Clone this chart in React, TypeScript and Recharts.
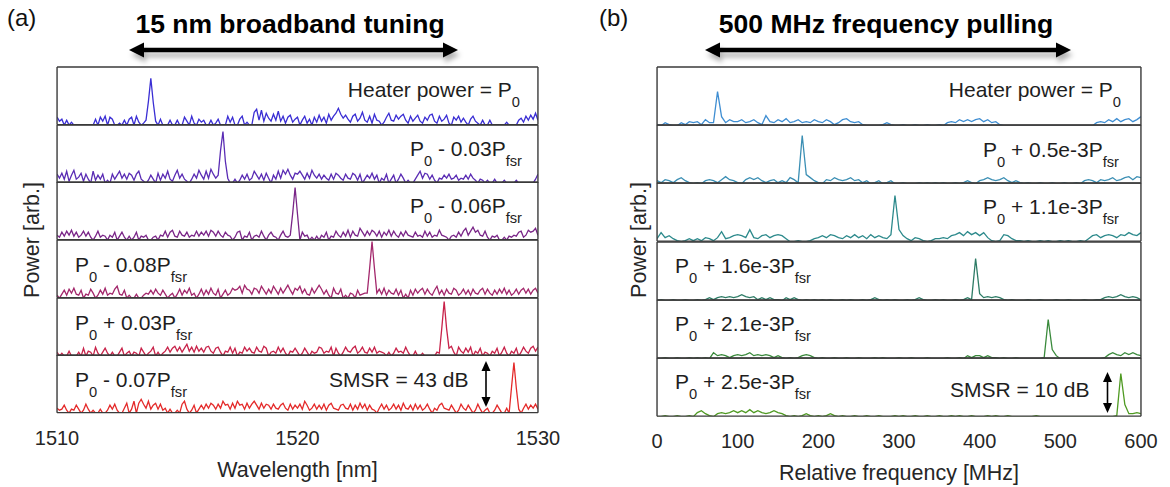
import React from 'react';
import { LineChart, Line, XAxis, YAxis } from 'recharts';

// ---------- sampling grids ----------
const WL_START = 1510;
const WL_STEP = 0.1;
const WL_COUNT = 201;
const FREQ_START = 0;
const FREQ_STEP = 5;
const FREQ_COUNT = 121;
const wavelengths = Array.from({ length: WL_COUNT }, (_, i) => +(WL_START + i * WL_STEP).toFixed(1));
const frequencies = Array.from({ length: FREQ_COUNT }, (_, i) => FREQ_START + i * FREQ_STEP);

// ---------- tick labels ----------
const WL_DOMAIN = [1510, 1530];
const WL_TICKS = [1510, 1520, 1530];
const WL_INNER_TICKS = [1520];
const FREQ_DOMAIN = [0, 600];
const FREQ_TICKS = [0, 100, 200, 300, 400, 500, 600];
const FREQ_INNER_TICKS = [100, 200, 300, 400, 500];
const LEFT_Y_TICKS = [12.5, 34.5];
const RIGHT_Y_TICKS = [8, 47.5];

// ---------- panel (a): spectra vs wavelength (arb. units) ----------
const LEFT_S1 = [
  8,4,6,0,5,0,3,0,0,0, 0,0,0,0,0,0,6,0,8,4, 9,0,8,6,0,0,2,0,5,0, 6,8,0,9,3,0,2,5,24,47,
  23,4,0,6,0,0,0,5,0,0, 5,0,0,8,4,0,9,2,0,6, 3,5,0,0,5,0,2,6,0,0, 0,9,3,8,0,0,6,9,0,3,
  0,0,13,16,5,15,4,12,7,4, 11,5,14,4,9,2,8,10,3,6, 8,0,5,9,2,6,0,8,3,10, 4,8,2,11,5,9,12,17,11,7,
  10,6,3,9,11,4,7,13,5,3, 9,2,11,5,4,0,3,8,12,5, 4,10,6,9,11,5,2,9,4,7, 10,4,2,8,5,10,11,4,2,9,
  4,6,10,2,0,8,5,9,3,7, 3,0,6,9,4,2,0,5,0,0, 5,0,0,0,0,0,0,3,0,0, 0,0,5,7,3,9,5,10,6,12,5,
];
const LEFT_S2 = [
  9,5,10,4,12,2,8,13,4,6, 10,2,9,4,0,12,3,8,4,9, 0,3,0,9,4,8,12,5,9,4, 10,8,3,9,12,4,2,0,3,8,
  4,0,10,3,9,5,12,4,2,8, 13,5,9,4,2,0,4,9,5,13, 8,4,12,5,14,9,5,8,33,52, 22,5,0,0,4,0,3,8,4,9,
  3,5,12,8,4,9,3,10,5,0, 8,4,12,5,13,9,14,8,4,10, 9,12,8,4,10,5,13,8,5,9, 4,8,5,3,9,4,10,8,5,3,
  9,5,4,10,8,3,9,0,4,8, 5,10,4,8,0,5,3,9,0,4, 8,0,4,9,5,0,3,0,0,4, 8,12,5,10,9,4,8,3,0,5,
  4,8,5,9,4,5,8,3,5,4, 8,4,9,5,3,0,4,3,0,3, 0,0,4,0,0,0,3,0,0,0, 0,3,0,0,0,0,0,0,0,4,9,
];
const LEFT_S3 = [
  5,3,8,4,9,5,10,4,8,3, 5,9,4,8,3,0,4,9,3,5, 4,0,5,3,8,0,4,8,3,0, 4,0,3,8,0,4,3,5,0,0,
  3,4,0,5,4,9,3,8,10,4, 3,9,5,4,8,3,5,4,9,4, 8,5,9,4,10,8,4,9,5,3, 8,5,4,0,3,8,9,0,4,3,
  8,0,4,5,3,9,4,0,5,8, 4,3,0,5,9,4,3,5,27,53, 26,0,8,4,5,0,3,0,4,0, 5,3,8,0,4,3,9,5,3,8,
  4,10,3,9,5,4,12,8,4,9, 5,10,8,4,9,3,8,5,10,4, 9,5,3,8,4,9,5,4,3,8, 4,5,3,9,4,8,3,5,4,10,
  5,4,3,0,4,5,3,8,4,9, 12,5,9,13,8,10,5,4,9,3, 0,4,3,5,0,0,3,0,4,3, 5,4,8,9,3,5,10,8,9,12,5,
];
const LEFT_S4 = [
  3,0,4,8,3,9,5,10,4,3, 8,0,4,3,9,5,0,3,8,4, 10,3,5,4,9,12,4,3,8,0, 3,0,0,4,0,0,3,5,4,8,
  4,9,5,3,8,4,0,3,5,0, 4,9,3,8,5,10,3,5,0,4, 9,3,8,4,10,5,3,9,0,4, 8,3,5,10,8,9,12,5,13,9,
  8,4,10,9,5,12,8,4,9,5, 12,8,4,10,5,9,13,8,4,10, 8,12,5,9,4,3,10,5,9,13, 9,4,8,3,0,10,5,4,9,0,
  3,0,5,4,0,8,3,4,5,5, 30,57,30,5,9,4,10,3,8,5, 4,9,3,8,0,4,0,8,3,9, 5,8,10,4,9,5,3,8,12,4,
  8,3,9,5,4,10,8,3,5,9, 4,8,3,9,5,4,8,10,4,9, 5,3,8,4,9,5,10,4,8,3, 5,9,4,8,10,5,9,4,8,10,5,
];
const LEFT_S5 = [
  4,0,3,0,0,5,0,0,0,4, 0,8,0,5,4,0,9,3,0,4, 8,3,0,4,0,0,4,8,0,3, 5,0,4,3,0,8,4,0,3,5,
  9,0,4,0,3,5,9,4,8,10, 5,9,4,8,12,5,9,4,10,5, 8,4,9,10,5,3,8,9,4,0, 5,4,9,3,8,0,4,3,9,5,
  8,4,3,9,5,4,10,8,0,4, 5,3,9,4,8,3,0,5,4,8, 4,0,3,8,4,0,5,3,4,9, 8,3,5,4,9,0,8,3,0,4,
  9,5,4,8,10,3,5,9,4,3, 8,4,9,3,5,4,3,0,4,0, 3,8,4,5,3,9,4,0,0,5, 0,0,3,0,0,0,0,0,4,3,
  28,55,28,8,10,4,0,9,5,3, 8,4,9,0,5,3,8,0,4,3, 0,5,3,8,0,4,9,3,0,5, 3,8,0,4,9,5,3,8,10,5,9,
];
const LEFT_S6 = [
  5,3,4,8,3,0,4,3,8,4, 0,3,9,4,0,3,0,0,4,0, 0,3,8,4,9,3,0,0,5,10, 0,4,12,0,10,14,9,5,12,4,
  8,10,4,9,3,5,0,4,0,0, 3,0,9,12,4,0,3,8,0,4, 8,4,9,5,10,8,4,9,5,12, 8,9,4,10,5,12,8,9,4,10,
  5,9,12,8,4,10,5,9,8,4, 9,5,4,8,10,5,3,9,4,8, 5,9,4,12,8,3,5,9,4,8, 4,9,3,8,10,5,4,3,8,9,
  5,4,9,3,8,4,10,5,9,3, 8,4,3,0,5,9,4,8,3,5, 9,4,8,3,10,5,4,8,3,9, 4,8,3,5,9,4,0,5,3,8,
  10,5,4,3,8,4,0,3,9,5, 3,8,4,0,3,9,4,0,3,5, 0,0,3,8,4,0,0,5,0,26, 51,25,4,0,5,9,4,8,5,9,4,
];

// ---------- panel (b): spectra vs relative frequency (arb. units) ----------
const RIGHT_S1 = [
  1,0,3,1,0,0,3,1,4,3, 4,1,6,3,3,34,9,3,6,4, 4,6,3,4,6,3,1,10,4,3, 6,4,7,3,4,6,3,4,3,6,
  4,3,6,4,1,3,6,7,4,3, 4,1,0,0,0,0,1,3,1,0, 0,1,0,0,1,0,0,1,0,0, 1,0,3,4,3,6,4,6,4,6,
  7,4,6,3,4,1,0,0,0,0, 0,0,0,0,0,0,0,0,0,0, 0,0,0,0,0,0,0,0,0,3, 4,3,6,4,7,4,6,7,4,6,9,
];
const RIGHT_S2 = [
  3,1,4,3,1,4,6,3,1,0, 1,0,3,4,3,1,4,7,4,3, 1,0,4,6,4,6,3,1,3,4, 1,3,1,6,4,1,48,9,6,3,
  1,0,4,3,6,4,3,4,6,3, 4,1,3,0,1,3,0,1,3,0, 0,1,0,0,0,1,0,1,0,1, 0,1,0,0,1,0,1,3,1,0,
  3,4,6,4,3,4,6,3,1,3, 1,0,1,0,0,1,0,0,1,0, 0,1,0,0,1,0,3,4,3,1, 4,3,4,6,3,4,6,7,4,7,6,
];
const RIGHT_S3 = [
  3,9,4,6,3,1,0,1,3,1, 3,1,4,3,1,4,10,3,4,6, 7,6,4,12,4,3,6,7,4,6, 7,6,3,0,0,1,0,0,1,3,
  4,6,4,7,6,4,3,6,4,7, 4,6,3,7,4,6,4,3,7,46, 12,6,3,1,4,3,1,0,1,3, 3,4,3,6,7,9,6,10,7,9,
  6,9,4,1,0,1,7,6,3,1, 1,0,1,0,0,1,0,1,0,0, 1,0,1,0,0,1,0,3,6,7, 4,6,7,6,4,7,6,9,7,6,9,
];
const RIGHT_S4 = [
  0,1,0,0,1,0,0,1,0,0, 1,0,1,3,1,3,4,3,4,3, 4,6,4,3,4,1,3,1,3,1, 1,0,3,1,3,1,0,1,0,1,
  0,1,0,1,0,0,1,0,1,0, 0,1,0,1,3,1,0,1,0,1, 0,0,1,0,1,3,1,0,0,1, 0,1,0,0,1,0,1,3,1,42,
  7,3,4,3,4,3,1,0,1,0, 0,0,1,0,0,1,0,0,0,1, 0,0,1,0,0,0,1,0,0,1, 1,3,4,3,4,6,4,3,4,3,1,
];
const RIGHT_S5 = [
  0,0,1,0,0,1,0,0,1,0, 1,0,1,0,6,3,4,3,1,3, 4,3,4,6,3,4,3,4,3,1, 3,1,0,1,0,1,3,4,3,1,
  0,1,0,0,1,0,0,1,0,0, 1,0,0,0,1,0,1,0,0,0, 1,0,0,1,0,0,0,1,0,0, 0,0,1,0,0,1,0,3,1,3,
  3,1,3,1,1,0,1,0,0,1, 0,0,0,0,0,0,1,39,9,3, 0,0,0,0,0,0,0,0,0,0, 0,1,4,6,4,3,6,4,6,4,3,
];
const RIGHT_S6 = [
  0,0,1,0,0,1,0,0,1,0, 4,6,3,1,0,3,4,3,4,6, 4,6,4,7,4,6,4,3,4,6, 4,3,1,0,1,0,1,3,1,0,
  1,0,1,3,1,0,1,0,0,1, 0,0,1,0,0,1,0,0,0,1, 0,1,0,0,1,0,0,1,0,0, 1,0,0,1,0,1,0,0,1,0,
  0,0,1,0,1,0,0,1,0,0, 0,0,0,0,1,0,0,0,0,0, 0,0,0,0,0,0,0,0,0,0, 0,0,0,0,1,43,12,3,3,4,3,
];

const LEFT_SERIES = [LEFT_S1, LEFT_S2, LEFT_S3, LEFT_S4, LEFT_S5, LEFT_S6];
const RIGHT_SERIES = [RIGHT_S1, RIGHT_S2, RIGHT_S3, RIGHT_S4, RIGHT_S5, RIGHT_S6];
const LEFT_COLORS = ['#3a2ed4', '#5a2cb4', '#7a2688', '#a3286c', '#c8234a', '#e42a2a'];
const RIGHT_COLORS = ['#3f8ed2', '#3b8fb4', '#2d8a8c', '#2e7c66', '#3a8a3c', '#4f9a22'];

type Part = [string, boolean];
const LEFT_LABELS: Part[][] = [
  [['Heater power = P', false], ['0', true]],
  [['P', false], ['0', true], [' - 0.03P', false], ['fsr', true]],
  [['P', false], ['0', true], [' - 0.06P', false], ['fsr', true]],
  [['P', false], ['0', true], [' - 0.08P', false], ['fsr', true]],
  [['P', false], ['0', true], [' + 0.03P', false], ['fsr', true]],
  [['P', false], ['0', true], [' - 0.07P', false], ['fsr', true]],
];
const RIGHT_LABELS: Part[][] = [
  [['Heater power = P', false], ['0', true]],
  [['P', false], ['0', true], [' + 0.5e-3P', false], ['fsr', true]],
  [['P', false], ['0', true], [' + 1.1e-3P', false], ['fsr', true]],
  [['P', false], ['0', true], [' + 1.6e-3P', false], ['fsr', true]],
  [['P', false], ['0', true], [' + 2.1e-3P', false], ['fsr', true]],
  [['P', false], ['0', true], [' + 2.5e-3P', false], ['fsr', true]],
];

const FONT = '"Liberation Sans", Arial, Helvetica, sans-serif';
const AXIS = '#3a3a3a';
const Y_DOMAIN = [0.5, 58.5];

type SubProps = {
  left: number; top: number; w: number; h: number;
  xs: number[]; ys: number[]; color: string; sw: number;
  domain: number[]; innerTicks: number[]; yTicks: number[];
  bottom?: boolean; labelTicks?: number[]; xLabel?: string;
};

function Subplot(p: SubProps) {
  const data = p.xs.map((x, i) => ({ x, v: p.ys[i] }));
  const extra = p.bottom ? 72 : 0;
  const side = p.bottom ? 40 : 1;
  const axisLine = { stroke: AXIS, strokeWidth: 1.4 };
  const tickLine = { stroke: AXIS, strokeWidth: 1.2 };
  return (
    <div style={{ position: 'absolute', left: p.left - side, top: p.top - 1 }}>
      <LineChart width={p.w + 2 * side} height={p.h + 2 + extra} data={data}
        margin={{ top: 1, right: side, bottom: 1, left: side }}>
        <Line xAxisId="b" yAxisId="l" dataKey="v" type="linear" stroke={p.color}
          strokeWidth={p.sw} dot={false} isAnimationActive={false} />
        <XAxis xAxisId="b" dataKey="x" type="number" domain={p.domain} allowDataOverflow
          ticks={p.innerTicks} mirror height={1} tick={false} tickSize={5}
          axisLine={axisLine} tickLine={tickLine} />
        <XAxis xAxisId="t" dataKey="x" type="number" domain={p.domain} allowDataOverflow
          orientation="top" ticks={p.innerTicks} mirror height={1} tick={false} tickSize={5}
          axisLine={axisLine} tickLine={tickLine} />
        {p.bottom && (
          <XAxis xAxisId="lbl" dataKey="x" type="number" domain={p.domain} allowDataOverflow
            ticks={p.labelTicks} height={72} axisLine={false} tickLine={false} tickSize={0}
            tickMargin={18} interval={0}
            tick={{ fontSize: 20, fill: '#262626', fontFamily: FONT }}
            label={{ value: p.xLabel, position: 'insideBottom', offset: 8, fontSize: 21.5, fill: '#262626', fontFamily: FONT }} />
        )}
        <YAxis yAxisId="l" type="number" domain={Y_DOMAIN} allowDataOverflow ticks={p.yTicks}
          mirror width={1} tick={false} tickSize={5} axisLine={axisLine} tickLine={tickLine} />
        <YAxis yAxisId="r" orientation="right" type="number" domain={Y_DOMAIN} allowDataOverflow
          ticks={p.yTicks} mirror width={1} tick={false} tickSize={5} axisLine={axisLine} tickLine={tickLine} />
      </LineChart>
    </div>
  );
}

function Rich({ x, y, anchor, parts, size }: { x: number; y: number; anchor: string; parts: Part[]; size: number }) {
  let cur = false;
  return (
    <text x={x} y={y} textAnchor={anchor as any} fontSize={size} fontFamily={FONT} fill="#1e1e1e">
      {parts.map(([t, s], i) => {
        const dy = s === cur ? 0 : s ? 10 : -10;
        cur = s;
        return <tspan key={i} dy={dy} fontSize={s ? size * 0.7 : size}>{t}</tspan>;
      })}
    </text>
  );
}

function BigArrow({ x1, x2, y }: { x1: number; x2: number; y: number }) {
  const L = 15, Hh = 7.5;
  return (
    <g filter="url(#sh)">
      <line x1={x1 + L - 1} y1={y} x2={x2 - L + 1} y2={y} stroke="#000" strokeWidth={4.5} />
      <polygon points={`${x1},${y} ${x1 + L},${y - Hh} ${x1 + L},${y + Hh}`} fill="#000" />
      <polygon points={`${x2},${y} ${x2 - L},${y - Hh} ${x2 - L},${y + Hh}`} fill="#000" />
    </g>
  );
}

function SmallArrow({ x, y1, y2 }: { x: number; y1: number; y2: number }) {
  const L = 10, Hw = 4.5;
  return (
    <g>
      <line x1={x} y1={y1 + L - 1} x2={x} y2={y2 - L + 1} stroke="#000" strokeWidth={1.6} />
      <polygon points={`${x},${y1} ${x - Hw},${y1 + L} ${x + Hw},${y1 + L}`} fill="#000" />
      <polygon points={`${x},${y2} ${x - Hw},${y2 - L} ${x + Hw},${y2 - L}`} fill="#000" />
    </g>
  );
}

const L_LEFT = 57, L_W = 481, L_TOP = 67, L_H = 57.67;
const R_LEFT = 657, R_W = 484, R_TOP = 67, R_H = 58.17;

export default function App() {
  return (
    <div style={{ position: 'absolute', left: 0, top: 0, width: 1170, height: 487, background: '#fff', overflow: 'hidden' }}>
      {LEFT_SERIES.map((s, k) => (
        <Subplot key={'l' + k} left={L_LEFT} top={L_TOP + k * L_H} w={L_W} h={L_H}
          xs={wavelengths} ys={s} color={LEFT_COLORS[k]} sw={1.3}
          domain={WL_DOMAIN} innerTicks={WL_INNER_TICKS} yTicks={LEFT_Y_TICKS}
          bottom={k === 5} labelTicks={WL_TICKS} xLabel="Wavelength [nm]" />
      ))}
      {RIGHT_SERIES.map((s, k) => (
        <Subplot key={'r' + k} left={R_LEFT} top={R_TOP + k * R_H} w={R_W} h={R_H}
          xs={frequencies} ys={s} color={RIGHT_COLORS[k]} sw={1.3}
          domain={FREQ_DOMAIN} innerTicks={FREQ_INNER_TICKS} yTicks={RIGHT_Y_TICKS}
          bottom={k === 5} labelTicks={FREQ_TICKS} xLabel="Relative frequency [MHz]" />
      ))}
      <svg width={1170} height={487} style={{ position: 'absolute', left: 0, top: 0, pointerEvents: 'none' }}>
        <defs>
          <filter id="sh" x="-5%" y="-200%" width="110%" height="500%">
            <feDropShadow dx="2" dy="5" stdDeviation="2.5" floodColor="#000" floodOpacity="0.3" />
          </filter>
        </defs>
        <text x={7} y={26} fontSize={24} fontFamily={FONT} fill="#111">(a)</text>
        <text x={599} y={26} fontSize={24} fontFamily={FONT} fill="#111">(b)</text>
        <text x={290} y={33} textAnchor="middle" fontSize={26.5} fontWeight="bold" fontFamily={FONT} fill="#000">15 nm broadband tuning</text>
        <text x={886} y={33} textAnchor="middle" fontSize={26.5} fontWeight="bold" fontFamily={FONT} fill="#000">500 MHz frequency pulling</text>
        <BigArrow x1={129} x2={458} y={50} />
        <BigArrow x1={705} x2={1071} y={50} />
        <text transform="translate(39,240) rotate(-90)" textAnchor="middle" fontSize={21.5} fontFamily={FONT} fill="#262626">Power [arb.]</text>
        <text transform="translate(646,240) rotate(-90)" textAnchor="middle" fontSize={21.5} fontFamily={FONT} fill="#262626">Power [arb.]</text>
        <Rich x={520} y={97} anchor="end" parts={LEFT_LABELS[0]} size={21} />
        <Rich x={522} y={156} anchor="end" parts={LEFT_LABELS[1]} size={21} />
        <Rich x={522} y={213} anchor="end" parts={LEFT_LABELS[2]} size={21} />
        <Rich x={75} y={272} anchor="start" parts={LEFT_LABELS[3]} size={21} />
        <Rich x={75} y={330} anchor="start" parts={LEFT_LABELS[4]} size={21} />
        <Rich x={75} y={387} anchor="start" parts={LEFT_LABELS[5]} size={21} />
        <text x={329} y={387} fontSize={21} fontFamily={FONT} fill="#1e1e1e">SMSR = 43 dB</text>
        <SmallArrow x={486} y1={361} y2={407} />
        <Rich x={1121} y={97} anchor="end" parts={RIGHT_LABELS[0]} size={21} />
        <Rich x={1119} y={157} anchor="end" parts={RIGHT_LABELS[1]} size={21} />
        <Rich x={1119} y={214} anchor="end" parts={RIGHT_LABELS[2]} size={21} />
        <Rich x={675} y={273} anchor="start" parts={RIGHT_LABELS[3]} size={21} />
        <Rich x={675} y={331} anchor="start" parts={RIGHT_LABELS[4]} size={21} />
        <Rich x={675} y={389} anchor="start" parts={RIGHT_LABELS[5]} size={21} />
        <text x={950} y={397} fontSize={21} fontFamily={FONT} fill="#1e1e1e">SMSR = 10 dB</text>
        <SmallArrow x={1107.5} y1={372} y2={413} />
      </svg>
    </div>
  );
}
